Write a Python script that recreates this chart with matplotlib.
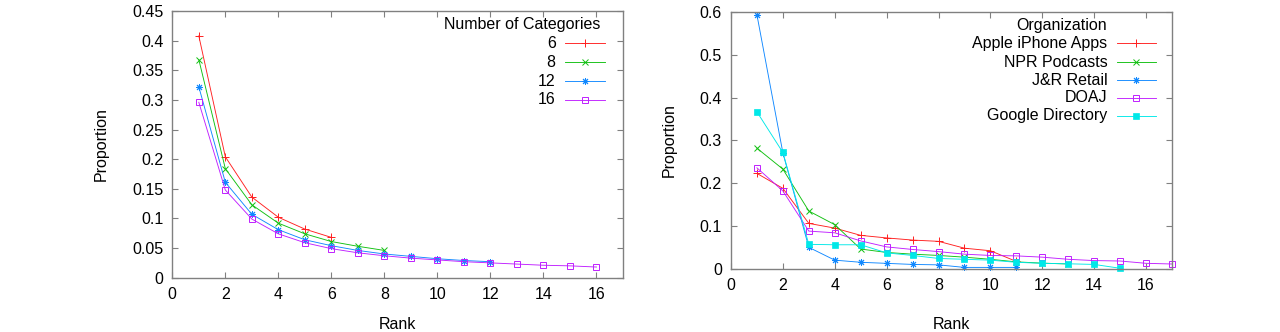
import matplotlib
matplotlib.use('Agg')
import matplotlib.pyplot as plt
from matplotlib.ticker import FuncFormatter, MultipleLocator

plt.rcParams['font.family'] = ['Liberation Sans', 'DejaVu Sans']

# ---------------- data (left chart) ----------------
cat_labels = ['6', '8', '12', '16']
prop_6 = [0.408, 0.204, 0.136, 0.102, 0.082, 0.068]
prop_8 = [0.368, 0.184, 0.123, 0.092, 0.074, 0.061, 0.053, 0.046]
prop_12 = [0.322, 0.161, 0.107, 0.081, 0.064, 0.054, 0.046, 0.040, 0.036,
           0.032, 0.029, 0.027]
prop_16 = [0.296, 0.148, 0.099, 0.074, 0.059, 0.049, 0.042, 0.037, 0.033,
           0.030, 0.027, 0.025, 0.023, 0.021, 0.020, 0.018]

# ---------------- data (right chart) ----------------
org_labels = ['Apple iPhone Apps', 'NPR Podcasts', 'J&R Retail', 'DOAJ',
              'Google Directory']
apple = [0.223, 0.188, 0.106, 0.095, 0.078, 0.072, 0.067, 0.064, 0.048,
         0.042, 0.017]
npr = [0.282, 0.233, 0.135, 0.103, 0.046, 0.038, 0.034, 0.031, 0.027,
       0.022, 0.016, 0.013, 0.011]
jr_retail = [0.594, 0.271, 0.050, 0.020, 0.015, 0.0125, 0.010, 0.009, 0.003,
             0.003, 0.003]
doaj = [0.236, 0.182, 0.088, 0.084, 0.065, 0.051, 0.045, 0.040, 0.034, 0.031,
        0.030, 0.027, 0.022, 0.019, 0.018, 0.0126, 0.011]
google = [0.367, 0.272, 0.057, 0.056, 0.056, 0.037, 0.031, 0.024, 0.022,
          0.020, 0.015, 0.0126, 0.0115, 0.010, 0.001]

RED, GREEN, BLUE, PURPLE, CYAN = '#ff2020', '#10c010', '#1088ff', '#c020ff', '#00e8e8'
AST = (8, 2, 0)
styles = {
    'plus': dict(marker='+', ms=6, mew=0.7),
    'x': dict(marker='x', ms=4.5, mew=0.7),
    'ast': dict(marker=AST, ms=5, mew=0.7),
    'osq': dict(marker='s', ms=4.5, mew=0.7, mfc='none'),
    'fsq': dict(marker='s', ms=5, mew=0.5),
}

FS = 11.5
W, H = 1280, 332
fig = plt.figure(figsize=(W / 100, H / 100), dpi=100)
ax1 = fig.add_axes([172.3 / W, 1 - 277.7 / H, (623 - 172.3) / W, (277.7 - 11) / H])
ax2 = fig.add_axes([731 / W, 1 - 268.7 / H, (1172 - 731) / W, (268.7 - 12.3) / H])

fmt = FuncFormatter(lambda v, p: '%g' % round(v, 4))
for ax in (ax1, ax2):
    ax.set_xlim(0, 17)
    ax.xaxis.set_major_locator(MultipleLocator(2))
    ax.yaxis.set_major_formatter(fmt)
    ax.tick_params(direction='in', top=True, right=True, length=4.5, width=0.8,
                   color='#808080', labelsize=FS)
    ax.tick_params(axis='x', pad=6.5)
    ax.tick_params(axis='y', pad=6.5)
    for s in ax.spines.values():
        s.set_color('#808080')
        s.set_linewidth(1.0)
    ax.set_xlabel('Rank', fontsize=FS)
    ax.set_ylabel('Proportion', fontsize=FS)
    ax.xaxis.label.set_va('baseline')
    ax.yaxis.label.set_va('center')

ax1.set_ylim(0, 0.45)
ax1.yaxis.set_major_locator(MultipleLocator(0.05))
ax2.set_ylim(0, 0.6)
ax2.yaxis.set_major_locator(MultipleLocator(0.1))

ax1.xaxis.set_label_coords(0.5, -0.1935)
ax1.yaxis.set_label_coords(-0.1586, 0.5)
ax2.xaxis.set_label_coords(0.5, -0.2363)
ax2.yaxis.set_label_coords(-0.139, 0.5)

LW = 0.65


def draw(ax, vals, color, st):
    ranks = list(range(1, len(vals) + 1))
    ax.plot(ranks, vals, color=color, lw=LW, clip_on=False, **styles[st])


def key(ax, label, color, st, ytxt, yline, xtxt, x0, x1):
    ax.text(xtxt, ytxt, label, transform=ax.transAxes, ha='right', va='baseline',
            fontsize=FS)
    ax.plot([x0, x1], [yline, yline], color=color, lw=LW, transform=ax.transAxes,
            clip_on=False)
    ax.plot([(x0 + x1) / 2], [yline], color=color, lw=0, transform=ax.transAxes,
            clip_on=False, **styles[st])


# left chart
left_series = [(prop_6, RED, 'plus'), (prop_8, GREEN, 'x'),
               (prop_12, BLUE, 'ast'), (prop_16, PURPLE, 'osq')]
for vals, c, st in left_series:
    draw(ax1, vals, c, st)
ax1.text(0.9505, 0.9314, 'Number of Categories', transform=ax1.transAxes,
         ha='right', va='baseline', fontsize=FS)
l_txt_y = [0.8624, 0.7912, 0.720, 0.650]
l_line_y = [0.879, 0.8076, 0.7375, 0.6663]
for (vals, c, st), lab, ty, ly in zip(left_series, cat_labels, l_txt_y, l_line_y):
    key(ax1, lab, c, st, ty, ly, 0.8507, 0.8713, 0.960)

# right chart
right_series = [(apple, RED, 'plus'), (npr, GREEN, 'x'), (jr_retail, BLUE, 'ast'),
                (doaj, PURPLE, 'osq'), (google, CYAN, 'fsq')]
for vals, c, st in right_series:
    draw(ax2, vals, c, st)
ax2.text(0.852, 0.931, 'Organization', transform=ax2.transAxes,
         ha='right', va='baseline', fontsize=FS)
r_txt_y = [0.8596, 0.788, 0.7176, 0.649, 0.581]
r_line_y = [0.879, 0.807, 0.737, 0.667, 0.597]
for (vals, c, st), lab, ty, ly in zip(right_series, org_labels, r_txt_y, r_line_y):
    key(ax2, lab, c, st, ty, ly, 0.854, 0.8746, 0.9637)

fig.savefig('out.png', dpi=100)
